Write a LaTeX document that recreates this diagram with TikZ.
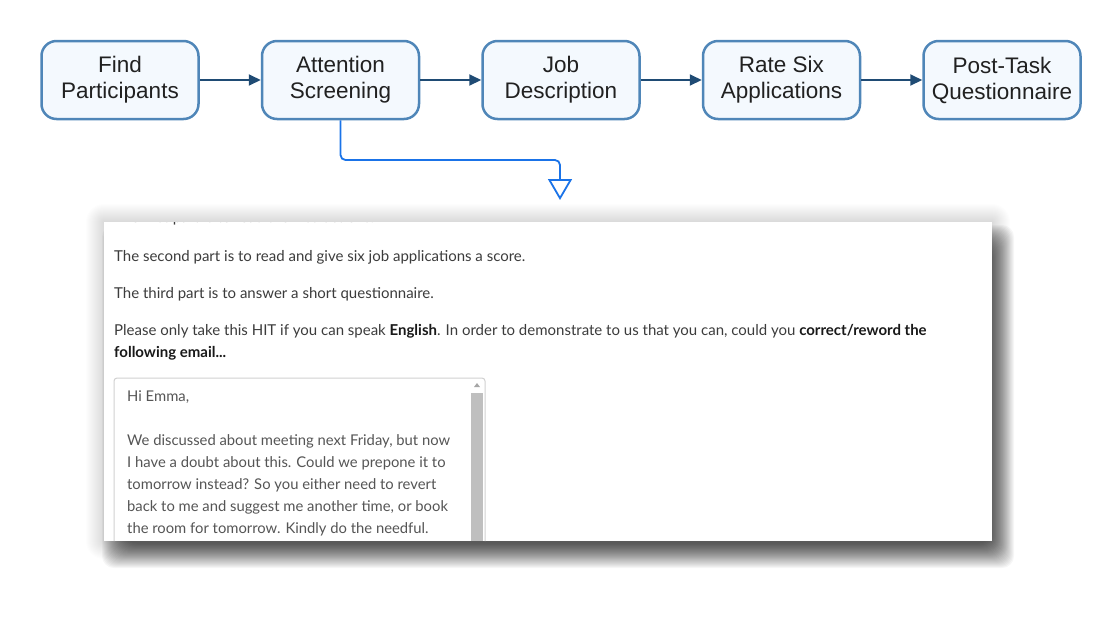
\documentclass[tikz,border=0pt]{standalone}
\usepackage{fontspec}
\setmainfont{Liberation Sans}
\newfontfamily\shotfont{Lato}
\usetikzlibrary{positioning,arrows.meta}
\definecolor{stageline}{HTML}{4F86B8}
\definecolor{stagefill}{HTML}{F4F9FE}
\definecolor{flowline}{HTML}{1F4B74}
\definecolor{linkblue}{HTML}{1A73E8}
\definecolor{shottext}{HTML}{3C3C3C}
\definecolor{areatext}{HTML}{555555}
\newcommand{\strongtext}[1]{\textcolor{black!90}{\textbf{#1}}}
\begin{document}
\begin{tikzpicture}[x=1pt,y=-1pt,
    stage/.style={draw=stageline, fill=stagefill, line width=2.5pt, rounded corners=15pt,
      minimum width=157pt, minimum height=78pt, align=center, text=black!87,
      font=\fontsize{22.5}{26}\selectfont, inner sep=0pt},
    flow/.style={flowline, line width=2pt, -{Triangle[length=12pt,width=11pt]}},
    shotline/.style={anchor=base west, inner sep=0pt, text=shottext, font=\shotfont\fontsize{15}{18}\selectfont},
    arealine/.style={anchor=base west, inner sep=0pt, text=areatext, font=\shotfont\fontsize{14.8}{18}\selectfont},
    node distance=61pt]
\useasboundingbox (0,0) rectangle (1120,630);

\node[stage] (find) at (120,80) {Find\\Participants};
\node[stage, right=of find] (attn) {Attention\\Screening};
\node[stage, right=of attn] (job) {Job\\Description};
\node[stage, right=of job] (rate) {Rate Six\\Applications};
\node[stage, right=of rate] (post) {Post-Task\\Questionnaire};

\foreach \a/\b in {find/attn, attn/job, job/rate, rate/post}
    \draw[flow] (\a) -- (\b);

\coordinate (drop) at (560,200);
\draw[linkblue, line width=1.8pt, rounded corners=5pt,
    -{Triangle[open, length=21pt, width=24pt, line width=1.8pt]}]
    (attn.south) |- (drop |- 0,160) -- (drop);

\foreach \s in {1,...,18}
    \fill[black, opacity=0.008, rounded corners=\s pt] ({104-\s},{222-\s}) rectangle ({992+\s},{541+\s});
\foreach \s in {-12,...,12}
    \fill[black, opacity=0.035, rounded corners=12pt] ({114-\s},{237-\s}) rectangle ({1002+\s},{556+\s});
\node[fill=white, minimum width=888pt, minimum height=319pt, inner sep=0pt, anchor=north west] (shot) at (104,222) {};

\begin{scope}
    \clip (shot.north west) rectangle (shot.south east);
    \node[shotline] (first) at (114,222.5) {The first part is to read the instructions.};
\end{scope}
\node[shotline] (second) at (114,261) {The second part is to read and give six job applications a score.};
\node[shotline] (third) at (114,298) {The third part is to answer a short questionnaire.};
\node[shotline] (please) at (114,335) {Please only take this HIT if you can speak \strongtext{English}. In order to demonstrate to us that you can, could you \strongtext{correct/reword the}};
\node[shotline] (email) at (114,357) {\strongtext{following email...}};

\draw[black!18, line width=1pt, rounded corners=3pt] (114,541) |- (485,378) -- (485,541);
\fill[black!25] (471,393) rectangle (483,541);
\fill[black!35] (474,387) -- (480,387) -- (477,383) -- cycle;

\node[arealine] (greet) at (127,401) {Hi Emma,};
\foreach \t [count=\i] in {{We discussed about meeting next Friday, but now},
    {I have a doubt about this. Could we prepone it to},
    {tomorrow instead? So you either need to revert},
    {back to me and suggest me another time, or book},
    {the room for tomorrow. Kindly do the needful.}}
    \node[arealine] (mail\i) at (127,{423+22*\i}) {\t};

\end{tikzpicture}
\end{document}
